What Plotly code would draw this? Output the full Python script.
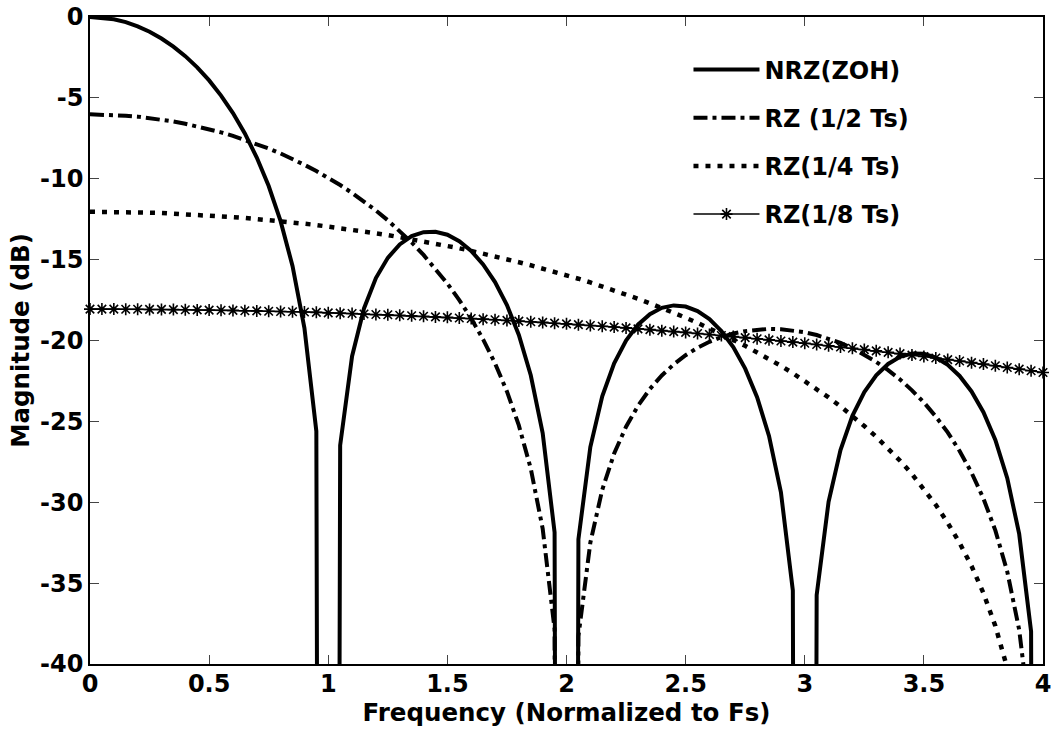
import plotly.graph_objects as go

# Normalized frequency grid (f / Fs)
freq = [0.00, 0.05, 0.10, 0.15, 0.20, 0.25, 0.30, 0.35, 0.40, 0.45,
        0.50, 0.55, 0.60, 0.65, 0.70, 0.75, 0.80, 0.85, 0.90, 0.95,
        1.00, 1.05, 1.10, 1.15, 1.20, 1.25, 1.30, 1.35, 1.40, 1.45,
        1.50, 1.55, 1.60, 1.65, 1.70, 1.75, 1.80, 1.85, 1.90, 1.95,
        2.00, 2.05, 2.10, 2.15, 2.20, 2.25, 2.30, 2.35, 2.40, 2.45,
        2.50, 2.55, 2.60, 2.65, 2.70, 2.75, 2.80, 2.85, 2.90, 2.95,
        3.00, 3.05, 3.10, 3.15, 3.20, 3.25, 3.30, 3.35, 3.40, 3.45,
        3.50, 3.55, 3.60, 3.65, 3.70, 3.75, 3.80, 3.85, 3.90, 3.95,
        4.00]

# Magnitude responses in dB (nulls fall far below the -40 dB floor)
nrz_zoh = [0.00, -0.04, -0.14, -0.32, -0.58, -0.91, -1.33, -1.83, -2.42, -3.11,
           -3.92, -4.86, -5.94, -7.20, -8.69, -10.45, -12.62, -15.39, -19.23, -25.61,
           -300.0, -26.48, -20.97, -18.02, -16.14, -14.89, -14.06, -13.55, -13.30, -13.28,
           -13.46, -13.86, -14.46, -15.30, -16.39, -17.81, -19.66, -22.15, -25.72, -31.86,
           -300.0, -32.29, -26.59, -23.45, -21.41, -20.00, -19.02, -18.37, -17.98, -17.83,
           -17.90, -18.18, -18.68, -19.41, -20.41, -21.74, -23.50, -25.90, -29.39, -35.45,
           -300.0, -35.74, -29.97, -26.77, -24.66, -23.19, -22.15, -21.45, -21.01, -20.81,
           -20.82, -21.06, -21.50, -22.19, -23.15, -24.43, -26.15, -28.51, -31.96, -37.99,
           -300.0]

rz_half = [-6.02, -6.03, -6.06, -6.10, -6.16, -6.25, -6.34, -6.46, -6.60, -6.76,
           -6.93, -7.13, -7.35, -7.59, -7.85, -8.13, -8.44, -8.77, -9.14, -9.52,
           -9.94, -10.39, -10.88, -11.40, -11.96, -12.57, -13.22, -13.93, -14.71, -15.55,
           -16.48, -17.50, -18.64, -19.93, -21.41, -23.15, -25.25, -27.92, -31.63, -37.85,
           -300.0, -38.29, -32.50, -29.23, -26.99, -25.33, -24.04, -23.00, -22.16, -21.48,
           -20.91, -20.45, -20.08, -19.79, -19.57, -19.42, -19.32, -19.28, -19.30, -19.37,
           -19.49, -19.66, -19.88, -20.15, -20.48, -20.87, -21.32, -21.83, -22.41, -23.08,
           -23.83, -24.70, -25.68, -26.83, -28.17, -29.77, -31.74, -34.29, -37.88, -43.98,
           -300.0]

rz_quarter = [-12.04, -12.04, -12.05, -12.06, -12.08, -12.10, -12.12, -12.15, -12.18, -12.22,
              -12.27, -12.31, -12.37, -12.42, -12.48, -12.55, -12.62, -12.70, -12.78, -12.86,
              -12.95, -13.05, -13.15, -13.26, -13.37, -13.48, -13.61, -13.73, -13.87, -14.01,
              -14.15, -14.30, -14.46, -14.62, -14.79, -14.97, -15.16, -15.35, -15.54, -15.75,
              -15.96, -16.18, -16.41, -16.65, -16.90, -17.16, -17.42, -17.70, -17.98, -18.28,
              -18.59, -18.91, -19.24, -19.59, -19.96, -20.33, -20.73, -21.14, -21.57, -22.02,
              -22.50, -22.99, -23.52, -24.07, -24.66, -25.29, -25.95, -26.66, -27.43, -28.26,
              -29.17, -30.16, -31.27, -32.52, -33.94, -35.62, -37.65, -40.25, -43.87, -50.00,
              -300.0]

rz_eighth = [-18.06, -18.06, -18.06, -18.07, -18.07, -18.08, -18.08, -18.09, -18.10, -18.11,
             -18.12, -18.13, -18.14, -18.16, -18.17, -18.19, -18.21, -18.22, -18.24, -18.26,
             -18.29, -18.31, -18.33, -18.36, -18.39, -18.41, -18.44, -18.47, -18.50, -18.54,
             -18.57, -18.61, -18.64, -18.68, -18.72, -18.76, -18.80, -18.84, -18.88, -18.93,
             -18.97, -19.02, -19.07, -19.12, -19.17, -19.22, -19.28, -19.33, -19.39, -19.45,
             -19.50, -19.57, -19.63, -19.69, -19.76, -19.82, -19.89, -19.96, -20.03, -20.10,
             -20.17, -20.25, -20.32, -20.40, -20.48, -20.56, -20.64, -20.73, -20.81, -20.90,
             -20.99, -21.08, -21.18, -21.27, -21.37, -21.46, -21.56, -21.67, -21.77, -21.87,
             -21.98]

x_ticks = [0, 0.5, 1, 1.5, 2, 2.5, 3, 3.5, 4]
x_tick_labels = ["0", "0.5", "1", "1.5", "2", "2.5", "3", "3.5", "4"]
y_ticks = [0, -5, -10, -15, -20, -25, -30, -35, -40]
y_tick_labels = ["0", "-5", "-10", "-15", "-20", "-25", "-30", "-35", "-40"]

FONT = "DejaVu Sans"
TICK_FONT = dict(family=FONT, size=24, color="black", weight="bold")
TITLE_FONT = dict(family=FONT, size=24.5, color="black", weight="bold")

fig = go.Figure()
fig.add_trace(go.Scatter(
    x=freq, y=nrz_zoh, mode="lines", name="NRZ(ZOH)", legendgroup="g1",
    line=dict(color="black", width=4)))
fig.add_trace(go.Scatter(
    x=freq, y=rz_half, mode="lines", name="RZ (1/2 Ts)", legendgroup="g2",
    line=dict(color="black", width=4, dash="14px,5px,4px,5px")))
fig.add_trace(go.Scatter(
    x=freq, y=rz_quarter, mode="lines", name="RZ(1/4 Ts)", legendgroup="g3",
    line=dict(color="black", width=4.5, dash="5px,7px")))
fig.add_trace(go.Scatter(
    x=freq, y=rz_eighth, mode="lines+markers", name="RZ(1/8 Ts)", legendgroup="g4",
    line=dict(color="black", width=1.5),
    marker=dict(symbol="asterisk-open", size=10, color="black",
                line=dict(color="black", width=1.6)),
    cliponaxis=False))

axis_common = dict(
    showline=True, linecolor="black", linewidth=1.5, mirror="allticks",
    ticks="inside", ticklen=9, tickwidth=1, tickcolor="#444",
    showgrid=False, zeroline=False, tickfont=TICK_FONT, automargin=False,
)

fig.update_layout(
    width=1053, height=736,
    margin=dict(l=90, r=10, t=17, b=72),
    plot_bgcolor="white", paper_bgcolor="white",
    font=TICK_FONT,
    showlegend=True,
    legend=dict(x=0.628, y=0.953, xanchor="left", yanchor="top",
                bgcolor="rgba(0,0,0,0)", borderwidth=0, font=TICK_FONT,
                itemwidth=66, traceorder="grouped", tracegroupgap=14),
    xaxis=dict(range=[0, 4], tickvals=x_ticks, ticktext=x_tick_labels,
               ticklabelstandoff=-3,
               title=dict(text="Frequency (Normalized to Fs)", font=TITLE_FONT, standoff=0),
               **axis_common),
    yaxis=dict(range=[-40, 0], tickvals=y_ticks, ticktext=y_tick_labels,
               title=dict(text="Magnitude (dB)", font=TITLE_FONT, standoff=4),
               **axis_common),
)

fig.write_html("out.html")
